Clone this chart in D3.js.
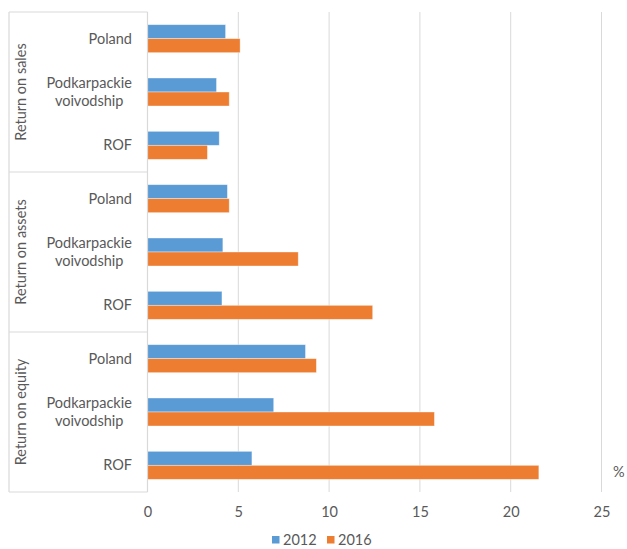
<!DOCTYPE html>
<html>
<head>
<meta charset="utf-8">
<script src="https://cdn.jsdelivr.net/npm/d3@7"></script>
<style>
  html, body { margin: 0; padding: 0; background: #fff; }
  svg { display: block; font-family: Lato, "Open Sans", sans-serif; }
</style>
</head>
<body>
<svg id="chart" width="627" height="549"></svg>
<script>
// Indicator groups, top to bottom
const groups = ["Return on sales", "Return on assets", "Return on equity"];
// Units within each group, top to bottom
const units = ["Poland", "Podkarpackie voivodship", "ROF"];
const series = ["2012", "2016"];
const colors = ["#5B9BD5", "#ED7D31"];

// Values in % (per group, in the order of `units`)
const sales2012 = [4.3, 3.8, 3.95];
const sales2016 = [5.1, 4.5, 3.3];
const assets2012 = [4.4, 4.15, 4.1];
const assets2016 = [4.5, 8.3, 12.4];
const equity2012 = [8.7, 6.95, 5.75];
const equity2016 = [9.3, 15.8, 21.55];

const xTicks = [0, 5, 10, 15, 20, 25];

const valuesByGroup = [
  [sales2012, sales2016],
  [assets2012, assets2016],
  [equity2012, equity2016]
];

const rows = [];
groups.forEach((g, gi) => {
  units.forEach((u, ui) => {
    rows.push({ key: g + "|" + u, group: g, unit: u,
      values: series.map((s, si) => ({ series: s, value: valuesByGroup[gi][si][ui] })) });
  });
});

const svg = d3.select("#chart");
const plotLeft = 147.5, plotRight = 601.5, plotTop = 12, plotBottom = 492;
const boxLeft = 9;
const textColor = "#595959";
const gridColor = "#D9D9D9";
const fontSize = 14.5;

const x = d3.scaleLinear().domain([0, 25]).range([plotLeft, plotRight]);
const y = d3.scaleBand().domain(rows.map(r => r.key)).range([plotTop, plotBottom]).paddingInner(0.475).paddingOuter(0.2375);
const ySub = d3.scaleBand().domain(series).range([0, y.bandwidth()]);

// Vertical gridlines
svg.append("g")
  .selectAll("line")
  .data(xTicks.filter(t => t > 0))
  .join("line")
  .attr("x1", d => x(d)).attr("x2", d => x(d))
  .attr("y1", plotTop).attr("y2", plotBottom)
  .attr("stroke", gridColor).attr("stroke-width", 1);

// Tick labels
const xAxis = d3.axisBottom(x).tickValues(xTicks).tickSize(0).tickPadding(0);
const gx = svg.append("g").attr("transform", `translate(0,${plotBottom})`).call(xAxis);
gx.select(".domain").remove();
gx.selectAll("text")
  .attr("y", 20)
  .attr("dy", "0.32em")
  .attr("font-size", fontSize)
  .attr("font-family", "Lato, 'Open Sans', sans-serif")
  .attr("fill", textColor);

// Bars
const rowG = svg.append("g").selectAll("g")
  .data(rows)
  .join("g")
  .attr("transform", d => `translate(0,${y(d.key)})`);

rowG.selectAll("rect")
  .data(d => d.values)
  .join("rect")
  .attr("x", x(0))
  .attr("y", d => ySub(d.series))
  .attr("width", d => x(d.value) - x(0))
  .attr("height", ySub.bandwidth())
  .attr("fill", d => colors[series.indexOf(d.series)])
  .attr("stroke", "#fff")
  .attr("stroke-opacity", 0.5)
  .attr("stroke-width", 0.75);

// Category axis line and group box
const groupStep = (plotBottom - plotTop) / groups.length;
const frame = svg.append("g").attr("stroke", gridColor).attr("stroke-width", 1.2).attr("fill", "none");
frame.append("line").attr("x1", plotLeft).attr("x2", plotLeft).attr("y1", plotTop).attr("y2", plotBottom);
frame.append("line").attr("x1", boxLeft).attr("x2", boxLeft).attr("y1", plotTop).attr("y2", plotBottom);
frame.selectAll("line.sep")
  .data(d3.range(groups.length + 1))
  .join("line")
  .attr("class", "sep")
  .attr("x1", boxLeft).attr("x2", plotLeft)
  .attr("y1", i => plotTop + i * groupStep).attr("y2", i => plotTop + i * groupStep);

// Unit labels (wrapped, right-aligned block, centred lines)
const wrapped = {
  "Poland": ["Poland"],
  "Podkarpackie voivodship": ["Podkarpackie", "voivodship"],
  "ROF": ["ROF"]
};
const labelG = svg.append("g").attr("font-size", fontSize).attr("fill", textColor);
rows.forEach(r => {
  const lines = wrapped[r.unit];
  const cy = y(r.key) + y.bandwidth() / 2;
  const t = labelG.append("text").attr("text-anchor", "middle");
  lines.forEach((ln, i) => {
    t.append("tspan")
      .attr("x", 0)
      .attr("y", cy + (i - (lines.length - 1) / 2) * 18)
      .attr("dy", "0.35em")
      .text(ln);
  });
  const w = t.node().getBBox().width;
  t.selectAll("tspan").attr("x", 132 - w / 2);
});

// Group labels, rotated
svg.append("g").selectAll("text")
  .data(groups)
  .join("text")
  .attr("transform", (d, i) => `translate(21,${plotTop + (i + 0.5) * groupStep}) rotate(-90)`)
  .attr("text-anchor", "middle")
  .attr("dy", "0.35em")
  .attr("font-size", fontSize)
  .attr("fill", textColor)
  .text(d => d);

// Unit marker
svg.append("text")
  .attr("x", 613).attr("y", 472).attr("dy", "0.35em")
  .attr("font-size", fontSize).attr("fill", textColor)
  .text("%");

// Legend
const legend = svg.append("g").attr("transform", "translate(272,540)");
const legendItems = legend.selectAll("g")
  .data(series)
  .join("g")
  .attr("transform", (d, i) => `translate(${i * 55},0)`);
legendItems.append("rect")
  .attr("x", 0).attr("y", -4).attr("width", 7.5).attr("height", 7.5)
  .attr("fill", (d, i) => colors[i]);
legendItems.append("text")
  .attr("x", 11).attr("dy", "0.35em")
  .attr("font-size", fontSize).attr("fill", textColor)
  .text(d => d);
</script>
</body>
</html>
